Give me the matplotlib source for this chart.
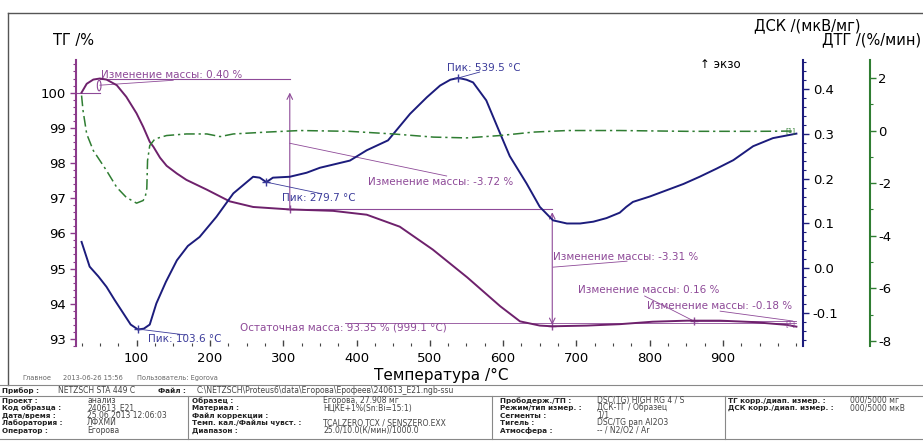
import numpy as np
import matplotlib.pyplot as plt
from matplotlib.patches import Ellipse

plt.rcParams['font.family'] = ['DejaVu Sans']
plt.rcParams['axes.unicode_minus'] = False

# --- data ---
temp_tg = [25, 32, 41, 50, 59, 73, 86, 100, 109, 118, 123, 132, 141, 155, 168, 196, 227, 259,
           309, 368, 414, 459, 504, 551, 596, 623, 650, 667, 714, 759, 804, 851, 896, 941, 987, 1000]
tg = [100.0, 100.25, 100.37, 100.40, 100.37, 100.21, 99.88, 99.41, 99.03, 98.6, 98.46, 98.15, 97.92,
      97.7, 97.52, 97.24, 96.91, 96.75, 96.68, 96.64, 96.53, 96.19, 95.54, 94.75, 93.93, 93.5, 93.38,
      93.36, 93.38, 93.42, 93.49, 93.52, 93.52, 93.48, 93.4, 93.35]

temp_dsc = [25, 36, 48, 59, 70, 82, 92, 102, 110, 118, 127, 140, 155, 170, 186, 209, 232, 259, 268,
            277, 286, 309, 332, 350, 391, 414, 443, 473, 496, 514, 528, 539, 550, 559, 577, 596, 609,
            632, 650, 668, 687, 705, 723, 741, 759, 768, 777, 800, 823, 846, 868, 891, 914, 941, 968, 1000]
dsc = [0.059, 0.004, -0.018, -0.041, -0.07, -0.1, -0.125, -0.136, -0.134, -0.125, -0.078, -0.03,
       0.018, 0.05, 0.07, 0.115, 0.167, 0.204, 0.202, 0.192, 0.202, 0.204, 0.213, 0.224, 0.24, 0.263,
       0.285, 0.344, 0.381, 0.407, 0.42, 0.424, 0.42, 0.414, 0.374, 0.3, 0.25, 0.189, 0.137, 0.107,
       0.1, 0.1, 0.104, 0.112, 0.124, 0.137, 0.148, 0.16, 0.174, 0.188, 0.204, 0.222, 0.241, 0.272,
       0.29, 0.30]

temp_dtg = [25, 27, 32, 41, 50, 59, 73, 86, 100, 109, 112, 114, 115, 118, 125, 141, 168, 196, 214,
            232, 277, 323, 390, 450, 505, 550, 596, 641, 687, 759, 850, 950, 995]
dtg = [1.33, 0.76, -0.13, -0.76, -1.14, -1.52, -2.16, -2.54, -2.76, -2.66, -2.5, -2.2, -1.14, -0.57,
       -0.32, -0.19, -0.13, -0.13, -0.23, -0.13, -0.06, 0.0, -0.03, -0.13, -0.25, -0.28, -0.19, -0.06,
       0.0, 0.0, -0.03, -0.03, -0.02]

x_ticks = [100, 200, 300, 400, 500, 600, 700, 800, 900]
tg_ticks = [93, 94, 95, 96, 97, 98, 99, 100]
dsc_ticks = [-0.1, 0.0, 0.1, 0.2, 0.3, 0.4]
dtg_ticks = [-8, -6, -4, -2, 0, 2]

dsc_peaks = [103.6, 279.7, 539.5]
mass_steps = [0.40, -3.72, -3.31, 0.16, -0.18]
residual = (93.35, 999.1)

rows_left = [('Проект :', 'анализ'), ('Код образца :', '240613_E21'),
             ('Дата/время :', '25.06.2013 12:06:03'), ('Лаборатория :', 'ЛФХМИ'),
             ('Оператор :', 'Егорова')]
rows_mid = [('Образец :', 'Егорова, 27.908 мг'), ('Материал :', 'НЦКЕ+1%(Sn:Bi=15:1)'),
            ('Файл коррекции :', ''), ('Темп. кал./Файлы чувст. :', 'TCALZERO.TCX / SENSZERO.EXX'),
            ('Диапазон :', '25.0/10.0(К/мин)/1000.0')]
rows_right = [('Прободерж./ТП :', 'DSC(TG) HIGH RG 4 / S'), ('Режим/тип измер. :', 'ДСК-ТГ / Образец'),
              ('Сегменты :', '1/1'), ('Тигель :', 'DSC/TG pan Al2O3'), ('Атмосфера :', '-- / N2/O2 / Ar')]
rows_far = [('ТГ корр./диап. измер. :', '000/5000 мг'), ('ДСК корр./диап. измер. :', '000/5000 мкВ')]

# colours
c_tg = '#6e216c'
c_ann = '#8e4a98'
c_dsc = '#1c1c7c'
c_dsc_txt = '#3b3b9a'
c_dtg = '#2f7d32'

W, H = 923, 441
fig = plt.figure(figsize=(W / 100, H / 100), dpi=100)


def fx(x):
    return x / W


def fy(y):
    return 1 - y / H


ax = fig.add_axes([fx(75.7), fy(346), (803 - 75.7) / W, (346 - 59.5) / H])
ax_dsc = ax.twinx()
ax_dtg = ax.twinx()

ax.plot(temp_tg, tg, color=c_tg, lw=1.4, zorder=3)
ax_dsc.plot(temp_dsc, dsc, color=c_dsc, lw=1.4)
ax_dtg.plot(temp_dtg, dtg, color=c_dtg, lw=1.1, dashes=[7, 2.5, 1.5, 2.5])

ax.set_xlim(17, 1009)
ax.set_ylim(92.83, 100.94)
ax_dsc.set_ylim(-0.1727, 0.465)
ax_dtg.set_ylim(-8.19, 2.70)

# spines
for s in ['top', 'right', 'bottom']:
    ax.spines[s].set_visible(False)
ax.spines['left'].set_color('#8b3a8b')
ax.spines['left'].set_linewidth(1.5)
for a in [ax_dsc, ax_dtg]:
    for s in ['top', 'left', 'bottom']:
        a.spines[s].set_visible(False)
ax_dsc.spines['right'].set_color(c_dsc)
ax_dsc.spines['right'].set_linewidth(1.5)
ax_dtg.spines['right'].set_position(('axes', 1.0921))
ax_dtg.spines['right'].set_color(c_dtg)
ax_dtg.spines['right'].set_linewidth(1.5)

fs_tick = 9.5
ax.set_xticks(x_ticks)
ax.set_xticks(np.arange(25, 1001, 25), minor=True)
ax.tick_params(axis='x', which='both', direction='in', color='#444444', labelsize=fs_tick, pad=4)
ax.tick_params(axis='x', which='major', length=4, width=1)
ax.tick_params(axis='x', which='minor', length=2.5, width=0.8)

ax.set_yticks(tg_ticks)
ax.set_yticks(np.arange(92.8, 100.95, 0.2), minor=True)
ax.tick_params(axis='y', which='both', direction='out', color='#8b3a8b', labelsize=fs_tick, pad=3)
ax.tick_params(axis='y', which='major', length=4, width=1)
ax.tick_params(axis='y', which='minor', length=2, width=0.8)

ax_dsc.set_yticks(dsc_ticks)
ax_dsc.set_yticklabels(['%.1f' % v for v in dsc_ticks])
ax_dsc.set_yticks(np.arange(-0.16, 0.465, 0.02), minor=True)
ax_dsc.tick_params(axis='y', which='both', direction='out', color=c_dsc, labelsize=fs_tick, pad=3)
ax_dsc.tick_params(axis='y', which='major', length=4, width=1)
ax_dsc.tick_params(axis='y', which='minor', length=2, width=0.8)

ax_dtg.set_yticks(dtg_ticks)
ax_dtg.set_yticks(np.arange(-7, 2.5, 2), minor=True)
ax_dtg.tick_params(axis='y', which='both', direction='out', color=c_dtg, labelsize=fs_tick, pad=2)
ax_dtg.tick_params(axis='y', which='major', length=4, width=1)
ax_dtg.tick_params(axis='y', which='minor', length=2, width=0.8)

ax.set_xlabel('Температура /°C', fontsize=11)
ax.xaxis.set_label_coords(0.503, -0.075)

# --- mass change annotations (TG axis) ---
fs_ann = 7.5
ax.plot([17, 50], [100.0, 100.0], color=c_ann, lw=0.8)
ax.plot([50, 309], [100.38, 100.38], color=c_ann, lw=0.8)
ax.add_patch(Ellipse((49, 100.2), 5, 0.3, fill=False, ec=c_ann, lw=0.8))
ax.plot([50, 150], [100.21, 100.35], color=c_ann, lw=0.6)
ax.text(51, 100.49, 'Изменение массы: %.2f %%' % mass_steps[0], color=c_ann, fontsize=fs_ann, va='center')

ax.annotate('', xy=(309, 100.0), xytext=(309, 96.68),
            arrowprops=dict(arrowstyle='->', color=c_ann, lw=0.8, shrinkA=0, shrinkB=0))
ax.plot([309], [96.68], marker='+', color=c_ann, ms=6)
ax.plot([309, 667], [96.68, 96.68], color=c_ann, lw=0.8)
ax.plot([309, 523], [98.56, 97.63], color=c_ann, lw=0.6)
ax.text(416, 97.46, 'Изменение массы: %.2f %%' % mass_steps[1], color=c_ann, fontsize=fs_ann, va='center')

ax.annotate('', xy=(667, 96.6), xytext=(667, 93.4),
            arrowprops=dict(arrowstyle='<->', color=c_ann, lw=0.8, shrinkA=0, shrinkB=0))
ax.plot([667], [93.36], marker='+', color=c_ann, ms=6)
ax.plot([668, 769], [95.04, 95.21], color=c_ann, lw=0.6)
ax.text(668, 95.32, 'Изменение массы: %.2f %%' % mass_steps[2], color=c_ann, fontsize=fs_ann, va='center')

ax.plot([793, 860], [94.22, 93.51], color=c_ann, lw=0.6)
ax.plot([860], [93.52], marker='+', color=c_ann, ms=6)
ax.plot([860, 1000], [93.52, 93.52], color=c_ann, lw=0.6)
ax.text(702, 94.39, 'Изменение массы: %.2f %%' % mass_steps[3], color=c_ann, fontsize=fs_ann, va='center')

ax.plot([896, 995], [93.79, 93.51], color=c_ann, lw=0.6)
ax.text(796, 93.94, 'Изменение массы: %.2f %%' % mass_steps[4], color=c_ann, fontsize=fs_ann, va='center')

ax.plot([384, 1000], [93.45, 93.45], color=c_ann, lw=0.6)
ax.text(241, 93.32, 'Остаточная масса: %.2f %% (%.1f °C)' % residual, color=c_ann,
        fontsize=fs_ann, va='center')
ax.text(992, 93.43, '[1]', color=c_ann, fontsize=5, va='center', ha='center')
ax_dtg.text(992, 0.0, '[1]', color=c_dtg, fontsize=5, va='center', ha='center')

# --- DSC peak annotations ---
peak_pts = [(102, -0.135, 115, -0.157, 166, -0.148),
            (277, 0.192, 298, 0.156, 350, 0.167),
            (539, 0.424, 523, 0.447, 568, 0.437)]
for val, (px, py, tx, ty, lx, ly) in zip(dsc_peaks, peak_pts):
    ax_dsc.plot([px], [py], marker='+', color=c_dsc_txt, ms=6)
    ax_dsc.plot([px, lx], [py, ly], color=c_dsc_txt, lw=0.6)
    ax_dsc.text(tx, ty, 'Пик: %.1f °C' % val, color=c_dsc_txt, fontsize=fs_ann, va='center')

# --- axis titles ---
fig.text(fx(53), fy(40), 'ТГ /%', fontsize=10.5, va='center')
fig.text(fx(860), fy(26), 'ДСК /(мкВ/мг)', fontsize=10.5, va='center', ha='right')
fig.text(fx(921), fy(40), 'ДТГ /(%/мин)', fontsize=10.5, va='center', ha='right')
fig.text(fx(700), fy(64), '↑ экзо', fontsize=8.5, va='center')

# --- frame and info table ---
gray = '#888888'
fig.add_artist(plt.Line2D([fx(8), fx(923)], [fy(13), fy(13)], color='#555555', lw=1))
fig.add_artist(plt.Line2D([fx(8), fx(8)], [fy(13), fy(385)], color='#555555', lw=1))
for yy in [385, 395.5, 439]:
    fig.add_artist(plt.Line2D([0, 1], [fy(yy), fy(yy)], color=gray, lw=0.8))
for xx in [188, 492, 725]:
    fig.add_artist(plt.Line2D([fx(xx), fx(xx)], [fy(395.5), fy(439)], color=gray, lw=0.8))

fs_small = 4.8
fig.text(fx(22), fy(380), 'Главное', fontsize=fs_small, color='#666666', va='baseline')
fig.text(fx(63), fy(380), '2013-06-26 15:56', fontsize=fs_small, color='#666666', va='baseline')
fig.text(fx(137), fy(380), 'Пользователь: Egorova', fontsize=fs_small, color='#666666', va='baseline')

fs_lab = 5.2
fs_val = 5.5
base = 2.6  # baseline offset below row centre, px
fig.text(fx(2), fy(390.7 + base), 'Прибор :', fontsize=fs_lab, weight='bold', color='#222222', va='baseline')
fig.text(fx(58), fy(390.7 + base), 'NETZSCH STA 449 C', fontsize=fs_val, color='#444444', va='baseline')
fig.text(fx(158), fy(390.7 + base), 'Файл :', fontsize=fs_lab, weight='bold', color='#222222', va='baseline')
fig.text(fx(197), fy(390.7 + base), 'C:\\NETZSCH\\Proteus6\\data\\Егорова\\Ерофеев\\240613_E21.ngb-ssu',
         fontsize=fs_val, color='#444444', va='baseline')

row_y = [400.3, 407.6, 415, 422.6, 430]
for rows, lx, vx in [(rows_left, 2, 87), (rows_mid, 192, 323), (rows_right, 500, 597), (rows_far, 728, 850)]:
    for (lab, val), yy in zip(rows, row_y):
        fig.text(fx(lx), fy(yy + base), lab, fontsize=fs_lab, weight='bold', color='#222222', va='baseline')
        fig.text(fx(vx), fy(yy + base), val, fontsize=fs_val, color='#444444', va='baseline')

fig.savefig('out.png', dpi=100)
